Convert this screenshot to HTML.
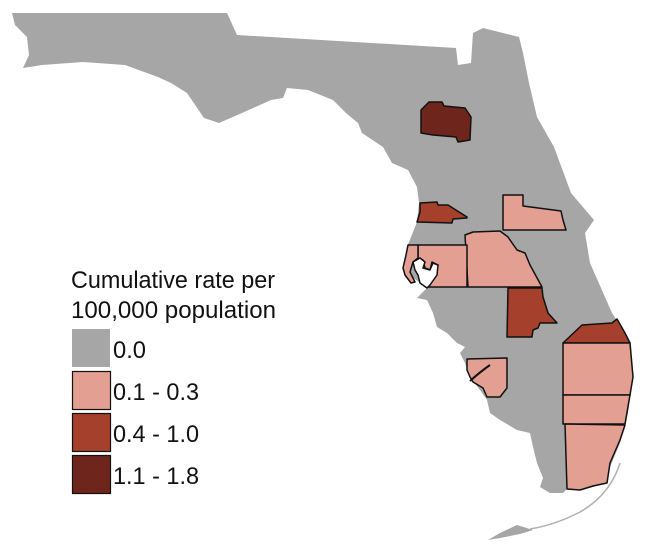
<!DOCTYPE html>
<html><head><meta charset="utf-8"><style>
html,body{margin:0;padding:0;background:#fff;}
svg{display:block}
text{font-family:"Liberation Sans",sans-serif;fill:#111;}
</style></head><body>
<svg width="650" height="556" viewBox="0 0 650 556" xmlns="http://www.w3.org/2000/svg">
<path fill="#a6a6a6" d="M12,13 L227,13 L237,35 L456,48 L458,65 L471,63 L473,33 L483,28 L519,37 L523,53 L529,83 L537,117 L554,147 L571,193 L594,220 L585,233 L590,263 L612,313 L616,319 L630,343 L633,377 L628,413 L625,427 L620,443 L610,467 L605,483 L593,487 L580,490 L567,489 L563,493 L550,493 L540,487 L543,478 L537,463 L533,447 L530,433 L517,430 L500,420 L490,413 L487,400 L480,390 L470,377 L465,363 L460,353 L465,347 L457,343 L447,333 L437,327 L433,313 L427,300 L417,298 L427,288 L420,283 L410,275 L403,268 L407,247 L413,232 L417,222 L419,203 L417,187 L408,170 L392,163 L383,147 L362,133 L358,123 L346,113 L333,100 L308,90 L287,88 L283,98 L271,100 L242,113 L219,123 L204,118 L187,93 L171,83 L158,77 L125,65 L83,62 L42,65 L23,68 L29,55 L27,37 L15,25 Z"/>
<path d="M620,463 Q610,495 580,512 Q555,525 530,529" fill="none" stroke="#b0b0b0" stroke-width="1.5"/>
<path fill="#a6a6a6" d="M488,540 L500,533 L517,525 L533,530 L520,534 L500,538 Z"/>
<g stroke="#111" stroke-width="1.5" stroke-linejoin="round">
<path fill="#6e261c" d="M421,110 L429,102 L442,102 L444,106 L465,108 L471,117 L470,140 L458,142 L456,137 L433,135 L421,133 Z"/>
<path fill="#a5402c" d="M420,203 L437,202 L438,205 L448,205 L467,217 L467,218 L453,219 L452,223 L417,222 L420,212 Z"/>
<path fill="#e3a092" d="M503,195 L523,195 L523,206 L561,211 L563,220 L566,230 L503,230 Z"/>
<path fill="#e3a092" d="M465,235 L473,232 L500,231 L508,237 L517,250 L525,253 L530,265 L542,287 L468,287 Z"/>
<path fill="#e3a092" d="M418,245 L467,245 L467,287 L428,287 L436,275 L438,265 L432,262 L430,270 L425,268 L423,260 L418,258 Z"/>
<path fill="#e3a092" d="M408,245 L418,245 L418,258 L413,262 L410,272 L415,282 L411,283 L405,275 L403,268 L406,255 Z"/>
<path fill="#fff" d="M413,262 L420,258 L425,262 L423,268 L430,270 L433,263 L438,265 L437,275 L430,285 L427,288 L420,283 L418,275 L415,270 Z"/>
<path fill="#a5402c" d="M508,288 L542,288 L543,297 L548,313 L557,323 L540,323 L538,328 L533,330 L532,337 L507,337 Z"/>
<path fill="#a5402c" d="M563,343 L582,325 L612,323 L617,319 L625,333 L630,343 Z"/>
<path fill="#e3a092" d="M563,343 L630,343 L633,377 L630,395 L563,395 Z"/>
<path fill="#e3a092" d="M563,395 L630,395 L625,424 L563,424 Z"/>
<path fill="#e3a092" d="M565,424 L625,425 L620,440 L610,463 L607,483 L593,486 L580,490 L567,489 Z"/>
<path fill="#e3a092" d="M467,359 L507,358 L507,388 L500,397 L487,397 L483,388 L473,382 L470,377 L467,370 Z"/>
<path d="M470,381 Q480,372 490,365" fill="none" stroke-width="2"/>
</g>
<text x="71" y="288" font-size="24" textLength="204" lengthAdjust="spacingAndGlyphs">Cumulative rate per</text>
<text x="71" y="318" font-size="24" textLength="205" lengthAdjust="spacingAndGlyphs">100,000 population</text>
<rect x="72" y="329" width="38" height="38" fill="#a6a6a6"/>
<rect x="72.5" y="371.5" width="38" height="38" fill="#e3a092" stroke="#111" stroke-width="1.2"/>
<rect x="72.5" y="413.5" width="38" height="38" fill="#a5402c" stroke="#111" stroke-width="1.2"/>
<rect x="72.5" y="455.5" width="38" height="38" fill="#6e261c" stroke="#111" stroke-width="1.2"/>
<text x="113" y="358" font-size="24" textLength="33" lengthAdjust="spacingAndGlyphs">0.0</text>
<text x="113" y="400" font-size="24" textLength="86" lengthAdjust="spacingAndGlyphs">0.1 - 0.3</text>
<text x="113" y="442" font-size="24" textLength="86" lengthAdjust="spacingAndGlyphs">0.4 - 1.0</text>
<text x="113" y="484" font-size="24" textLength="86" lengthAdjust="spacingAndGlyphs">1.1 - 1.8</text>
</svg>
</body></html>
